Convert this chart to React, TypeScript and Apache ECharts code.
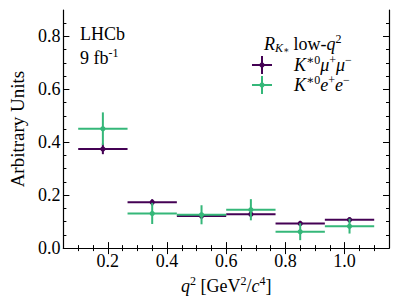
import React, { useEffect, useRef } from "react";
import * as echarts from "echarts";

const binLow = [0.1, 0.2667, 0.4333, 0.6, 0.7667, 0.9333];
const binHigh = [0.2667, 0.4333, 0.6, 0.7667, 0.9333, 1.1];
const muValues = [0.375, 0.173, 0.121, 0.128, 0.093, 0.107];
const muErrors = [0.02, 0.012, 0.009, 0.011, 0.01, 0.01];
const eeValues = [0.451, 0.131, 0.126, 0.145, 0.062, 0.083];
const eeErrors = [0.062, 0.04, 0.036, 0.04, 0.032, 0.028];
const xTickLabels = [0.2, 0.4, 0.6, 0.8, 1.0];
const yTickLabels = [0.0, 0.2, 0.4, 0.6, 0.8];

const MU_COLOR = "#440154";
const EE_COLOR = "#35b779";
const FONT = "'Liberation Serif', 'DejaVu Serif', serif";
const FS = 18;

function minorVals(lo: number, hi: number, step: number, major: number[]) {
  const out: number[] = [];
  for (let k = Math.round(lo / step); k * step <= hi + 1e-9; k++) {
    const v = +(k * step).toFixed(4);
    if (v <= lo + 1e-9 || v >= hi - 1e-9) continue;
    if (major.some((m) => Math.abs(m - v) < 1e-6)) continue;
    out.push(v);
  }
  return out;
}

function makeRender(color: string) {
  return (params: any, api: any) => {
    const lo = api.value(0);
    const hi = api.value(1);
    const y = api.value(2);
    const e = api.value(3);
    const mid = (lo + hi) / 2;
    const pL = api.coord([lo, y]);
    const pR = api.coord([hi, y]);
    const pT = api.coord([mid, y + e]);
    const pB = api.coord([mid, y - e]);
    const c = api.coord([mid, y]);
    return {
      type: "group",
      children: [
        { type: "line", shape: { x1: pL[0], y1: pL[1], x2: pR[0], y2: pR[1] }, style: { stroke: color, lineWidth: 2 } },
        { type: "line", shape: { x1: pT[0], y1: pT[1], x2: pB[0], y2: pB[1] }, style: { stroke: color, lineWidth: 2 } },
        { type: "circle", shape: { cx: c[0], cy: c[1], r: 2.6 }, style: { fill: color } },
      ],
    };
  };
}

export default function App() {
  const ref = useRef<HTMLDivElement>(null);
  useEffect(() => {
    if (!ref.current) return;
    const chart = echarts.init(ref.current, undefined, { renderer: "svg" });
    const xMin = 0.05, xMax = 1.15, yMin = 0, yMax = 0.9;
    const xMajor = xTickLabels;
    const yMajor = yTickLabels;
    const xMinor = minorVals(xMin, xMax, 0.05, xMajor);
    const yMinor = minorVals(yMin, yMax, 0.05, yMajor);
    const line = { show: true, lineStyle: { color: "#000", width: 1.2 } };
    const mkX = (pos: string, ticks: number[], len: number, labels: boolean, showLine: boolean): any => ({
      type: "value",
      position: pos,
      min: xMin,
      max: xMax,
      gridIndex: 0,
      splitLine: { show: false },
      axisLine: showLine ? line : { show: false },
      axisTick: { show: true, inside: true, length: len, customValues: ticks, lineStyle: { color: "#000", width: 1 } },
      axisLabel: labels
        ? { show: true, customValues: ticks, formatter: (v: number) => v.toFixed(1), fontFamily: FONT, fontSize: FS, color: "#000", margin: 4 }
        : { show: false },
    });
    const mkY = (pos: string, ticks: number[], len: number, labels: boolean, showLine: boolean): any => ({
      type: "value",
      position: pos,
      min: yMin,
      max: yMax,
      gridIndex: 0,
      splitLine: { show: false },
      axisLine: showLine ? line : { show: false },
      axisTick: { show: true, inside: true, length: len, customValues: ticks, lineStyle: { color: "#000", width: 1 } },
      axisLabel: labels
        ? { show: true, customValues: ticks, formatter: (v: number) => v.toFixed(1), fontFamily: FONT, fontSize: FS, color: "#000", margin: 3 }
        : { show: false },
    });
    const xAxes = [mkX("bottom", xMajor, 6, true, true), mkX("bottom", xMinor, 3, false, false), mkX("top", xMajor, 6, false, true), mkX("top", xMinor, 3, false, false)];
    const yAxes = [mkY("left", yMajor, 6, true, true), mkY("left", yMinor, 3, false, false), mkY("right", yMajor, 6, false, true), mkY("right", yMinor, 3, false, false)];
    xAxes[0].name = "{i|q}{sup|2} [GeV{sup|2}/{i|c}{sup|4}]";
    xAxes[0].nameLocation = "middle";
    xAxes[0].nameGap = 23;
    xAxes[0].nameTextStyle = {
      fontFamily: FONT, fontSize: FS, color: "#000", lineHeight: 21,
      rich: {
        i: { fontFamily: FONT, fontSize: FS, fontStyle: "italic", lineHeight: 21 },
        sup: { fontFamily: FONT, fontSize: 12, lineHeight: 12, verticalAlign: "top" },
      },
    };
    yAxes[0].name = "Arbitrary Units";
    yAxes[0].nameLocation = "middle";
    yAxes[0].nameGap = 33;
    yAxes[0].nameTextStyle = { fontFamily: FONT, fontSize: 19, color: "#000" };

    const muData = binLow.map((lo, i) => [lo, binHigh[i], muValues[i], muErrors[i]]);
    const eeData = binLow.map((lo, i) => [lo, binHigh[i], eeValues[i], eeErrors[i]]);

    const richBase = {
      n: { fontFamily: FONT, fontSize: FS, lineHeight: 21, fill: "#000" },
      i: { fontFamily: FONT, fontSize: FS, fontStyle: "italic", lineHeight: 21 },
      sup: { fontFamily: FONT, fontSize: 12, lineHeight: 12, verticalAlign: "top" },
      sub: { fontFamily: FONT, fontSize: 12, fontStyle: "italic", lineHeight: 11, verticalAlign: "bottom" },
      subsup: { fontFamily: FONT, fontSize: 9, lineHeight: 15, verticalAlign: "bottom" },
    };

    const legendCross = (cx: number, cy: number, color: string) => [
      { type: "line", shape: { x1: cx - 10, y1: cy, x2: cx + 10, y2: cy }, style: { stroke: color, lineWidth: 2 } },
      { type: "line", shape: { x1: cx, y1: cy - 9, x2: cx, y2: cy + 9 }, style: { stroke: color, lineWidth: 2 } },
      { type: "circle", shape: { cx, cy, r: 2.6 }, style: { fill: color } },
    ];

    chart.setOption({
      animation: false,
      textStyle: { fontFamily: FONT },
      grid: { left: 61, right: 10, top: 10, bottom: 52, containLabel: false },
      xAxis: xAxes,
      yAxis: yAxes,
      series: [
        { type: "custom", name: "mu", xAxisIndex: 0, yAxisIndex: 0, renderItem: makeRender(MU_COLOR), encode: { x: [0, 1], y: [2] }, data: muData },
        { type: "custom", name: "ee", xAxisIndex: 0, yAxisIndex: 0, renderItem: makeRender(EE_COLOR), encode: { x: [0, 1], y: [2] }, data: eeData, itemStyle: { opacity: 0.95 } },
      ],
      graphic: [
        { type: "text", left: 80, top: 25, style: { text: "LHCb", font: FS + "px " + FONT, fill: "#000" } },
        { type: "text", left: 80, top: 47, style: { text: "{n|9 fb}{sup|-1}", font: FS + "px " + FONT, fill: "#000", rich: richBase } },
        { type: "text", left: 264, top: 33, style: { text: "{i|R}{sub|K}{subsup|∗} {n|low-}{i|q}{sup|2}", font: FS + "px " + FONT, fill: "#000", rich: richBase } },
        { type: "text", left: 294, top: 54, style: { text: "{i|K}{sup|∗0}{i|μ}{sup|+}{i|μ}{sup|−}", font: FS + "px " + FONT, fill: "#000", rich: richBase } },
        { type: "text", left: 294, top: 74, style: { text: "{i|K}{sup|∗0}{i|e}{sup|+}{i|e}{sup|−}", font: FS + "px " + FONT, fill: "#000", rich: richBase } },
        ...legendCross(262, 65, MU_COLOR),
        ...legendCross(262, 85, EE_COLOR),
      ],
    });
    return () => chart.dispose();
  }, []);
  return <div ref={ref} style={{ width: 399, height: 301, position: "absolute", left: 0, top: 0 }} />;
}
